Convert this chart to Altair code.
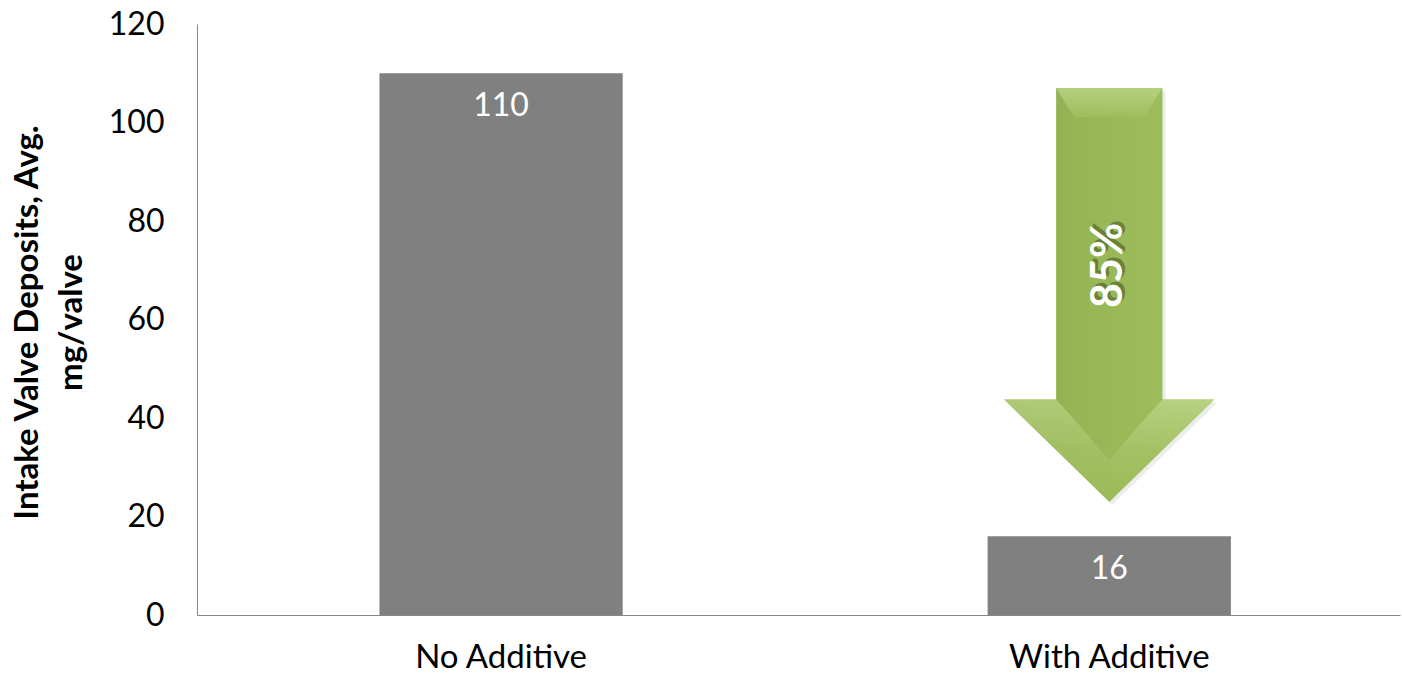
import altair as alt
import pandas as pd

# Average intake valve deposits per test fuel
categories = ["No Additive", "With Additive"]
deposits = [110, 16]

# Reduction callout arrow (value range it spans) and its label
arrow_category = "With Additive"
arrow_top = 107
arrow_tip = 23
reduction_label = "85%"
reduction_label_value = 71

y_ticks = [0, 20, 40, 60, 80, 100, 120]
y_max = 120

PLOT_W = 1203
PLOT_H = 591
FONT = "Lato"
FS = 32

bars_df = pd.DataFrame({"category": categories, "deposit": deposits})

x_scale = alt.Scale(paddingInner=0.6, paddingOuter=0.289, align=0.519)
y_scale = alt.Scale(domain=[0, y_max], nice=False)

x_enc = alt.X(
    "category:N",
    sort=categories,
    title=None,
    scale=x_scale,
    axis=alt.Axis(labelAngle=0, ticks=False, labelPadding=26, labelFontSize=33,
                  labelLimit=0, labelColor="#000000", domainColor="#868686",
                  labelFont=FONT),
)

bars = alt.Chart(bars_df).mark_bar(color="#808080").encode(
    x=x_enc,
    y=alt.Y(
        "deposit:Q",
        scale=y_scale,
        title=["Intake Valve Deposits, Avg.", "mg/valve"],
        axis=alt.Axis(values=y_ticks, ticks=False, grid=False, labelPadding=33,
                      labelFontSize=FS, labelColor="#000000", labelFont=FONT,
                      domainColor="#868686", titleFontSize=33, titleFont=FONT,
                      titleFontWeight="bold", titleColor="#000000", titleAngle=-90,
                      titleX=-186, titleY=298, titleAlign="center",
                      titleBaseline="top", titleLineHeight=44),
    ),
)

bar_labels = alt.Chart(bars_df).mark_text(
    color="white", fontSize=FS, font=FONT, baseline="middle", dy=33
).encode(
    x=alt.X("category:N", sort=categories, scale=x_scale),
    y=alt.Y("deposit:Q", scale=y_scale),
    text=alt.Text("deposit:Q"),
)

# Arrow geometry: custom symbol in the [-1, 1] box, scaled to the value span
px_per_unit = PLOT_H / y_max
arrow_len_px = (arrow_top - arrow_tip) * px_per_unit
arrow_size = arrow_len_px ** 2
arrow_df = pd.DataFrame({
    "category": [arrow_category],
    "mid": [(arrow_top + arrow_tip) / 2],
})

ARROW_PATH = ("M -0.257 -1 L 0.257 -1 L 0.257 0.506 L 0.508 0.506 L 0 1 "
              "L -0.508 0.506 L -0.257 0.506 Z")
TOP_BEVEL = "M -0.257 -1 L 0.257 -1 L 0.17 -0.86 L -0.17 -0.86 Z"
LEFT_BEVEL = "M -0.508 0.506 L -0.257 0.506 L -0.17 0.6 L 0 0.8 L 0 1 Z"
RIGHT_BEVEL = "M 0.508 0.506 L 0.257 0.506 L 0.17 0.6 L 0 0.8 L 0 1 Z"

arrow_fill = alt.Gradient(
    gradient="linear",
    x1=0, x2=1, y1=0, y2=0,
    stops=[
        alt.GradientStop(offset=0, color="#8cab4e"),
        alt.GradientStop(offset=0.4, color="#97b756"),
        alt.GradientStop(offset=0.75, color="#9dbd5b"),
        alt.GradientStop(offset=1, color="#a3c262"),
    ],
)
top_bevel_fill = alt.Gradient(
    gradient="linear",
    x1=0, x2=0, y1=0, y2=1,
    stops=[
        alt.GradientStop(offset=0, color="#b8d384"),
        alt.GradientStop(offset=1, color="#9fbe5e"),
    ],
)
wing_fill = alt.Gradient(
    gradient="linear",
    x1=0, x2=0, y1=0, y2=1,
    stops=[
        alt.GradientStop(offset=0, color="#bcd689"),
        alt.GradientStop(offset=0.5, color="#a5c366"),
        alt.GradientStop(offset=1, color="#9bbb59"),
    ],
)

def arrow_layer(path, fill, opacity=1.0, dx=0, dy=0):
    return alt.Chart(arrow_df).mark_point(
        shape=path, filled=True, fill=fill, opacity=opacity, strokeWidth=0,
        size=arrow_size, xOffset=dx, yOffset=dy,
    ).encode(
        x=alt.X("category:N", sort=categories, scale=x_scale),
        y=alt.Y("mid:Q", scale=y_scale),
    )

arrow_shadow = arrow_layer(ARROW_PATH, "#7f7f7f", opacity=0.15, dx=3, dy=3)
arrow = arrow_layer(ARROW_PATH, arrow_fill)
bevel_top = arrow_layer(TOP_BEVEL, top_bevel_fill, opacity=0.9)
bevel_left = arrow_layer(LEFT_BEVEL, wing_fill, opacity=0.7)
bevel_right = arrow_layer(RIGHT_BEVEL, wing_fill, opacity=0.8)

label_df = pd.DataFrame({"category": [arrow_category],
                         "pos": [reduction_label_value],
                         "label": [reduction_label]})

def label_layer(color, opacity=1.0, dx=0, dy=0):
    return alt.Chart(label_df).mark_text(
        color=color, opacity=opacity, fontSize=43, fontWeight="bold", font=FONT,
        angle=270, baseline="middle", align="center", dx=dx, dy=dy,
    ).encode(
        x=alt.X("category:N", sort=categories, scale=x_scale),
        y=alt.Y("pos:Q", scale=y_scale),
        text="label:N",
    )

label_shadow = label_layer("#3a4a1a", opacity=0.5, dx=3, dy=3)
label_main = label_layer("#ffffff")

chart = alt.layer(
    bars, bar_labels, arrow_shadow, arrow, bevel_top, bevel_left, bevel_right,
    label_shadow, label_main,
).properties(
    width=PLOT_W,
    height=PLOT_H,
    autosize=alt.AutoSizeParams(type="none"),
    padding={"left": 197, "top": 24, "right": 2, "bottom": 61},
    background="white",
).configure_view(stroke=None)

chart.save("out.html", embed_options={"renderer": "svg", "actions": False})
